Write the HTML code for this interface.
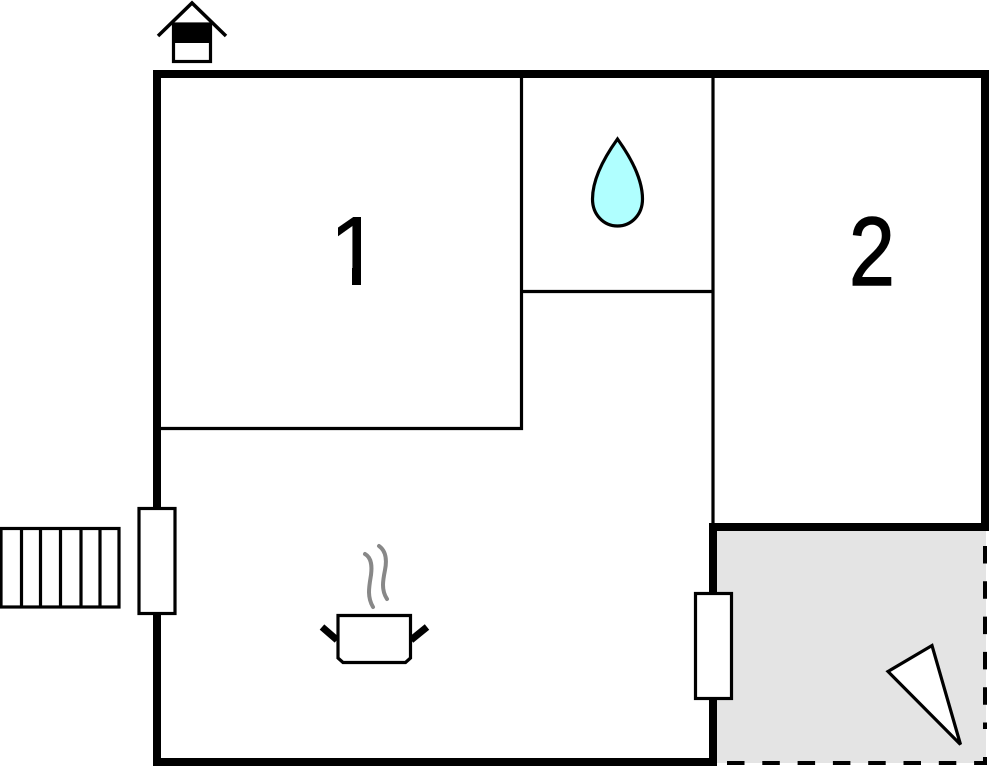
<!DOCTYPE html>
<html>
<head>
<meta charset="utf-8">
<style>
html,body{margin:0;padding:0;background:#fff;width:990px;height:768px;overflow:hidden}
svg{display:block;filter:blur(.35px)}
</style>
</head>
<body>
<svg width="990" height="768" viewBox="0 0 990 768" xmlns="http://www.w3.org/2000/svg">
<defs>
<clipPath id="noFoot"><rect x="338" y="200" width="23" height="75"/></clipPath>
</defs>
<rect width="990" height="768" fill="#fff"/>
<!-- terrace -->
<rect x="717" y="530" width="269" height="233" fill="#e4e4e4"/>
<!-- dashed edges -->
<g stroke="#000" stroke-width="4" fill="none">
<path d="M985 546V729" stroke-dasharray="17.5 17.8"/>
<path d="M727 763H986" stroke-dasharray="17.5 17.8"/>
<path d="M985 757V765"/>
</g>
<!-- thin walls -->
<g stroke="#000" stroke-width="3.200" fill="none">
<path d="M713 74V525"/>
<path d="M521.500 74V428.500H160"/>
<path d="M521 291.500H713"/>
</g>
<!-- thick walls -->
<g stroke="#000" stroke-width="8" fill="none">
<path d="M713 526V766"/>
<path d="M157 766V74H985V527H709"/>
<path d="M153 762H717"/>
</g>
<!-- numbers -->
<g clip-path="url(#noFoot)">
<text x="328" y="285" font-family="'Liberation Sans',sans-serif" font-size="98" fill="#000" stroke="#000" stroke-width="0.500">1</text>
</g>
<rect x="352" y="268" width="9" height="17" fill="#000"/>
<text transform="translate(849 285) scale(.85 1)" x="0" y="0" font-family="'Liberation Sans',sans-serif" font-size="97" fill="#000" stroke="#000" stroke-width="1.400">2</text>
<!-- doors -->
<rect x="139" y="508.500" width="36" height="105" fill="#fff" stroke="#000" stroke-width="3.200"/>
<rect x="695.500" y="593.500" width="36" height="105" fill="#fff" stroke="#000" stroke-width="3.200"/>
<!-- stairs -->
<g stroke="#000" stroke-width="3.200" fill="none">
<rect x="1" y="528.500" width="118" height="78.500" fill="#fff"/>
<path d="M21.500 528V607M40.500 528V607M60.500 528V607M81 528V607M100 528V607"/>
</g>
<!-- house -->
<path d="M158 36L192 3L226 36" fill="none" stroke="#000" stroke-width="3.500"/>
<rect x="173.500" y="24" width="37" height="37.500" fill="#fff" stroke="#000" stroke-width="3.200"/>
<rect x="172" y="23" width="40" height="20" fill="#000"/>
<!-- water drop -->
<path d="M617.500 139C606 155 592.500 178 592.500 199C592.500 215 604 226 617.500 226C631 226 642.500 215 642.500 199C642.500 178 629 155 617.500 139Z" fill="#b0ffff" stroke="#000" stroke-width="3.200"/>
<!-- pot -->
<path d="M322 627L337 640" stroke="#000" stroke-width="7"/>
<path d="M427 627L411 640" stroke="#000" stroke-width="7"/>
<path d="M338 615.500H410.500V658L405.500 662.500H343L338 658Z" fill="#fff" stroke="#000" stroke-width="3.200"/>
<!-- steam -->
<g fill="none" stroke="#888" stroke-width="4" stroke-linecap="round">
<path d="M365 554C372 558 372 567 371 575C369 587 367 597 373 607"/>
<path d="M379 546C386 551 387 560 385 570C383 580 381 590 387 599"/>
</g>
<!-- triangle -->
<path d="M888 671.500L932 645.500L960.500 744.500Z" fill="#fff" stroke="#000" stroke-width="3.200"/>
</svg>
</body>
</html>
